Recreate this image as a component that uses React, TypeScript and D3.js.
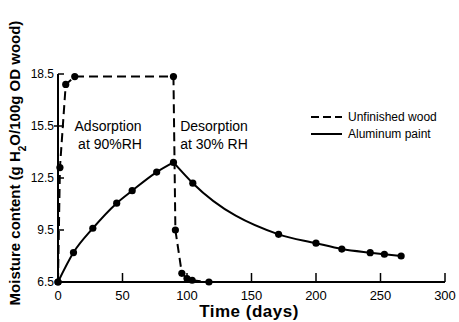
import React from "react";
import * as d3 from "d3";

const unfinishedDays = [0, 1.5, 6, 13, 89.5, 91, 96, 100, 104, 117];
const unfinishedMC = [6.5, 13.1, 17.9, 18.35, 18.35, 9.5, 7.0, 6.7, 6.6, 6.5];

const paintDays = [0, 12, 27, 45.5, 57.5, 76.5, 89.5, 104.5, 171, 200, 220, 242, 253, 266];
const paintMC = [6.5, 8.2, 9.6, 11.05, 11.77, 12.84, 13.4, 12.2, 9.25, 8.74, 8.4, 8.19, 8.1, 8.0];

const xTicks = [0, 50, 100, 150, 200, 250, 300];
const yTicks = [6.5, 9.5, 12.5, 15.5, 18.5];

const W = 459, H = 322;
const x = d3.scaleLinear().domain([0, 300]).range([58, 445]);
const y = d3.scaleLinear().domain([6.5, 18.5]).range([282, 74]);

export default function App() {
  const unf = unfinishedDays.map((d, i) => [d, unfinishedMC[i]] as [number, number]);
  const pnt = paintDays.map((d, i) => [d, paintMC[i]] as [number, number]);
  const lineLin = d3.line<[number, number]>().x(d => x(d[0])).y(d => y(d[1]));
  const up = pnt.filter(d => d[0] <= 89.5);
  const down = pnt.filter(d => d[0] >= 89.5);
  const lineSmooth = d3.line<[number, number]>().x(d => x(d[0])).y(d => y(d[1])).curve(d3.curveMonotoneX);
  const font = "'Liberation Sans', Arial, sans-serif";
  return (
    <svg width={W} height={H} style={{ position: "absolute", left: 0, top: 0, background: "#fff" }} fontFamily={font}>
      <line x1={x(0)} x2={x(300)} y1={y(6.5)} y2={y(6.5)} stroke="#000" strokeWidth={2} />
      <line x1={x(0)} x2={x(0)} y1={y(6.5)} y2={y(18.5)} stroke="#000" strokeWidth={2} />
      {xTicks.map(t => (
        <g key={"xt" + t}>
          {t > 0 && <line x1={x(t)} x2={x(t)} y1={y(6.5)} y2={y(6.5) - 9} stroke="#000" strokeWidth={1.5} />}
          <text x={x(t)} y={300} textAnchor="middle" fontSize={13}>{t}</text>
        </g>
      ))}
      {yTicks.map(t => (
        <g key={"yt" + t}>
          {t > 6.5 && <line x1={x(0) - (t === 15.5 ? 4 : 0)} x2={x(0) + 6} y1={y(t)} y2={y(t)} stroke="#000" strokeWidth={1.5} />}
          <text x={x(0) - 4} y={y(t) + 4} textAnchor="end" fontSize={12}>{t}</text>
        </g>
      ))}
      <text x={249} y={317} textAnchor="middle" fontSize={17} fontWeight="bold" letterSpacing={0.5}>Time (days)</text>
      <text transform={`translate(20,163) rotate(-90)`} textAnchor="middle" fontSize={15} fontWeight="bold">
        Moisture  content  (g H<tspan baselineShift="sub" fontSize={10}>2</tspan>O/100g OD wood)
      </text>
      <path d={lineLin(unf) || ""} fill="none" stroke="#000" strokeWidth={2} strokeDasharray="9,5" />
      {unf.map((d, i) => (
        <circle key={"u" + i} cx={x(d[0])} cy={y(d[1])} r={3.6} fill="#000" />
      ))}
      <path d={lineSmooth(up) || ""} fill="none" stroke="#000" strokeWidth={2} />
      <path d={lineSmooth(down) || ""} fill="none" stroke="#000" strokeWidth={2} />
      {pnt.map((d, i) => (
        <circle key={"p" + i} cx={x(d[0])} cy={y(d[1])} r={3.6} fill="#000" />
      ))}
      <text x={108} y={131} textAnchor="middle" fontSize={14}>Adsorption</text>
      <text x={110} y={149} textAnchor="middle" fontSize={14}>at 90%RH</text>
      <text x={214} y={131} textAnchor="middle" fontSize={14}>Desorption</text>
      <text x={214} y={149} textAnchor="middle" fontSize={14}>at 30% RH</text>
      <line x1={311} x2={342} y1={117} y2={117} stroke="#000" strokeWidth={2} strokeDasharray="8,4" />
      <text x={348} y={121} fontSize={12}>Unfinished wood</text>
      <line x1={311} x2={342} y1={134} y2={134} stroke="#000" strokeWidth={2} />
      <text x={348} y={138} fontSize={12}>Aluminum paint</text>
    </svg>
  );
}
